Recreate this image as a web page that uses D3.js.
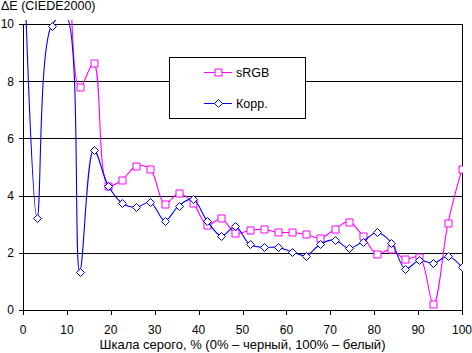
<!DOCTYPE html>
<html>
<head>
<meta charset="utf-8">
<script src="https://d3js.org/d3.v7.min.js"></script>
<style>
  body { margin: 0; background: #fff; }
  #container { width: 472px; height: 353px; }
  text { font-family: "Liberation Sans", Arial, sans-serif; font-size: 12px; fill: #000; }
</style>
</head>
<body>
<div id="container"></div>
<script>
// grey scale steps, % (32 patches)
const steps = [0, 3.2, 6.5, 9.7, 12.9, 16.1, 19.4, 22.6, 25.8, 29.0, 32.3, 35.5, 38.7, 41.9, 45.2, 48.4,
    51.6, 54.8, 58.1, 61.3, 64.5, 67.7, 71.0, 74.2, 77.4, 80.6, 83.9, 87.1, 90.3, 93.5, 96.8, 100];

const srgb = [18, 16, 14.5, 13.1, 7.78, 8.62, 4.35, 4.56, 5.03, 4.92, 3.70, 4.08, 3.75, 2.98, 3.20, 2.68,
    2.78, 2.82, 2.71, 2.71, 2.64, 2.51, 2.82, 3.09, 2.59, 1.96, 2.12, 1.77, 1.86, 0.20, 3.03, 4.94];

const korr = [13.5, 3.22, 9.94, 10.3, 1.34, 5.60, 4.35, 3.73, 3.59, 3.77, 3.12, 3.65, 3.88, 3.12, 2.59, 2.92,
    2.30, 2.19, 2.19, 2.03, 1.90, 2.30, 2.45, 2.16, 2.39, 2.71, 2.36, 1.44, 1.74, 1.63, 1.88, 1.49];

const xTicks = [0, 10, 20, 30, 40, 50, 60, 70, 80, 90, 100];
const yTicks = [0, 2, 4, 6, 8, 10];

const seriesNames = ["sRGB", "Корр."];
const seriesColors = ["#ff00ff", "#0000ff"];

const width = 472;
const height = 353;

const svg = d3.select("#container")
    .append("svg")
    .attr("width", width)
    .attr("height", height);

const x = d3.scaleLinear().domain([0, 100]).range([23, 462]);
const y = d3.scaleLinear().domain([0, 10]).range([310, 24]);

// clip for the data (plot area reaches a little above the 10 line)
svg.append("clipPath")
    .attr("id", "plotClip")
    .append("rect")
    .attr("x", x(0))
    .attr("y", 20)
    .attr("width", x(100) - x(0) + 1)
    .attr("height", y(0) - 20 + 2);

// gridlines with left tick stubs
svg.append("g")
    .selectAll("line")
    .data(yTicks.filter(d => d > 0))
    .join("line")
    .attr("x1", x(0) - 4)
    .attr("x2", x(100))
    .attr("y1", d => Math.round(y(d)) + 0.5)
    .attr("y2", d => Math.round(y(d)) + 0.5)
    .attr("stroke", "#000")
    .attr("shape-rendering", "crispEdges");

// y axis + right border
svg.append("line")
    .attr("x1", Math.round(x(0)) + 0.5).attr("x2", Math.round(x(0)) + 0.5)
    .attr("y1", Math.round(y(10))).attr("y2", Math.round(y(0)) + 1)
    .attr("stroke", "#000").attr("shape-rendering", "crispEdges");
svg.append("line")
    .attr("x1", Math.round(x(100)) + 0.5).attr("x2", Math.round(x(100)) + 0.5)
    .attr("y1", Math.round(y(10))).attr("y2", Math.round(y(0)) + 1)
    .attr("stroke", "#000").attr("shape-rendering", "crispEdges");

// x axis with ticks
svg.append("line")
    .attr("x1", x(0) - 4).attr("x2", x(100) + 1)
    .attr("y1", Math.round(y(0)) + 0.5).attr("y2", Math.round(y(0)) + 0.5)
    .attr("stroke", "#000").attr("shape-rendering", "crispEdges");

svg.append("g")
    .selectAll("line")
    .data(xTicks)
    .join("line")
    .attr("x1", d => Math.round(x(d)) + 0.5)
    .attr("x2", d => Math.round(x(d)) + 0.5)
    .attr("y1", y(0))
    .attr("y2", y(0) + 5)
    .attr("stroke", "#000")
    .attr("shape-rendering", "crispEdges");

svg.append("g")
    .selectAll("text")
    .data(xTicks)
    .join("text")
    .attr("x", d => x(d))
    .attr("y", 333.5)
    .attr("text-anchor", "middle")
    .text(d => d);

svg.append("g")
    .selectAll("text")
    .data(yTicks)
    .join("text")
    .attr("x", 14)
    .attr("y", d => y(d))
    .attr("dy", "0.36em")
    .attr("text-anchor", "end")
    .text(d => d);

svg.append("text")
    .attr("x", 1)
    .attr("y", 10)
    .style("font-size", "12.5px")
    .text("ΔE (CIEDE2000)");

svg.append("text")
    .attr("x", (x(0) + x(100)) / 2)
    .attr("y", 349)
    .attr("text-anchor", "middle")
    .style("font-size", "13px")
    .text("Шкала серого, % (0% – черный, 100% – белый)");

// series
const line = d3.line()
    .x(d => x(d[0]))
    .y(d => y(d[1]))
    .curve(d3.curveCatmullRom);

const plot = svg.append("g").attr("clip-path", "url(#plotClip)");

const diamond = r => `M0,${-r}L${r},0L0,${r}L${-r},0Z`;

function drawSeries(values, color, marker) {
    const pts = steps.map((s, i) => [s, values[i]]);
    plot.append("path")
        .datum(pts)
        .attr("d", line)
        .attr("fill", "none")
        .attr("stroke", color)
        .attr("stroke-width", 1.1);

    const m = plot.append("g")
        .selectAll("path")
        .data(pts)
        .join("path")
        .attr("transform", d => `translate(${Math.round(x(d[0])) + 0.5},${Math.round(y(d[1])) + 0.5})`)
        .attr("fill", "#fff")
        .attr("stroke", color)
        .attr("stroke-width", 1);
    if (marker === "square") m.attr("d", "M-3.5,-3.5H3.5V3.5H-3.5Z");
    else m.attr("d", diamond(4));
}

drawSeries(srgb, seriesColors[0], "square");
drawSeries(korr, seriesColors[1], "diamond");

// legend
const legend = svg.append("g");
legend.append("rect")
    .attr("x", 169.5).attr("y", 57.5)
    .attr("width", 136).attr("height", 61)
    .attr("fill", "#fff").attr("stroke", "#000");

const legendRows = [72.5, 103.5];
seriesNames.forEach((name, i) => {
    const ly = legendRows[i];
    legend.append("line")
        .attr("x1", 204).attr("x2", 232)
        .attr("y1", ly).attr("y2", ly)
        .attr("stroke", seriesColors[i]);
    legend.append("path")
        .attr("transform", `translate(218.5,${ly})`)
        .attr("d", i === 0 ? "M-3.5,-3.5H3.5V3.5H-3.5Z" : diamond(4))
        .attr("fill", "#fff")
        .attr("stroke", seriesColors[i]);
    legend.append("text")
        .attr("x", 236)
        .attr("y", ly + 4.5)
        .style("font-size", "12.5px")
        .text(name);
});
</script>
</body>
</html>
